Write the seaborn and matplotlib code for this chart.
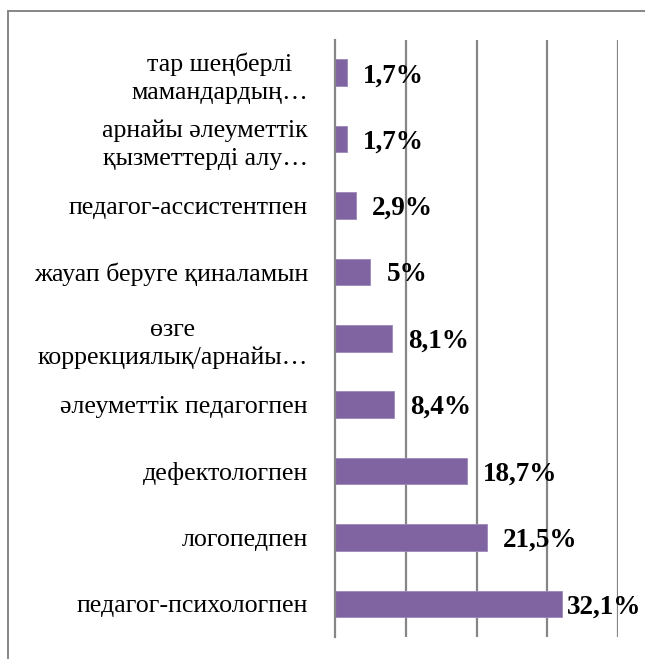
import matplotlib
matplotlib.use("Agg")
import matplotlib.pyplot as plt
import seaborn as sns
import pandas as pd
from matplotlib.lines import Line2D
from matplotlib.ticker import FixedLocator
from matplotlib.transforms import offset_copy, blended_transform_factory

categories = [
    "тар шеңберлі\nмамандардың…",
    "арнайы әлеуметтік\nқызметтерді алу…",
    "педагог-ассистентпен",
    "жауап беруге қиналамын",
    "өзге\nкоррекциялық/арнайы…",
    "әлеуметтік педагогпен",
    "дефектологпен",
    "логопедпен",
    "педагог-психологпен",
]
values = [1.7, 1.7, 2.9, 5.0, 8.1, 8.4, 18.7, 21.5, 32.1]
value_labels = ["1,7%", "1,7%", "2,9%", "5%", "8,1%", "8,4%", "18,7%", "21,5%", "32,1%"]
x_grid = [10, 20, 30, 40]

df = pd.DataFrame({"cat": categories, "val": values})

sns.set_theme(style="white")
plt.rcParams["font.family"] = ["Liberation Serif", "DejaVu Serif"]

W, H = 645, 659
fig = plt.figure(figsize=(W/100, H/100), dpi=100)
ax = fig.add_axes([335/W, 1-637/H, (618-335)/W, (637-39.5)/H])

grey = "#868686"
sns.barplot(data=df, x="val", y="cat", orient="h", order=categories,
            color="#8064A2", saturation=1, width=0.4, ax=ax,
            edgecolor="#9c88bb", linewidth=0.6, zorder=3)

ax.set_xlim(0, 40)
ax.set_ylim(len(categories) - 0.5, -0.5)
ax.set_xlabel("")
ax.set_ylabel("")

for gx in x_grid:
    ax.axvline(gx, color=grey, lw=1.6, zorder=1)

for s in ["top", "right", "bottom"]:
    ax.spines[s].set_visible(False)
ax.spines["left"].set_color(grey)
ax.spines["left"].set_linewidth(1.6)
ax.spines["left"].set_zorder(4)

ax.set_xticks([])
ax.tick_params(axis="y", which="major", length=0, labelleft=False)
ax.yaxis.set_minor_locator(FixedLocator([i - 0.5 for i in range(len(categories) + 1)]))
ax.tick_params(axis="y", which="minor", length=6, width=1.6, color=grey, direction="out")

# category labels (multi-line, centred lines, right-aligned block)
lab_tr = offset_copy(blended_transform_factory(ax.transAxes, ax.transData),
                     fig=fig, x=-27, y=0, units="dots")
for i, c in enumerate(categories):
    ax.text(0, i, c, transform=lab_tr, ha="right", va="center_baseline",
            multialignment="center", linespacing=1.35, fontsize=18.7,
            color="black", clip_on=False)

texts = []
for i, (v, lab) in enumerate(zip(values, value_labels)):
    tr = offset_copy(ax.transData, fig=fig, x=16, y=0, units="dots")
    t = ax.text(v, i, lab, transform=tr, ha="left", va="center_baseline", fontsize=19.5,
                fontweight="bold", color="black", zorder=5, clip_on=False)
    texts.append(t)

# keep labels inside the figure (as the original chart does)
fig.canvas.draw()
r = fig.canvas.get_renderer()
for t in texts:
    bb = t.get_window_extent(r)
    over = bb.x1 - (W - 4)
    if over > 0:
        t.set_transform(offset_copy(ax.transData, fig=fig, x=16 - over, y=0, units="dots"))

fig.add_artist(Line2D([8/W, 8/W], [0, 1-11/H], transform=fig.transFigure,
                      color=grey, lw=1.4))
fig.add_artist(Line2D([8/W, 1], [1-11/H, 1-11/H], transform=fig.transFigure,
                      color=grey, lw=1.4))

fig.savefig("out.png", dpi=100, facecolor="white")
